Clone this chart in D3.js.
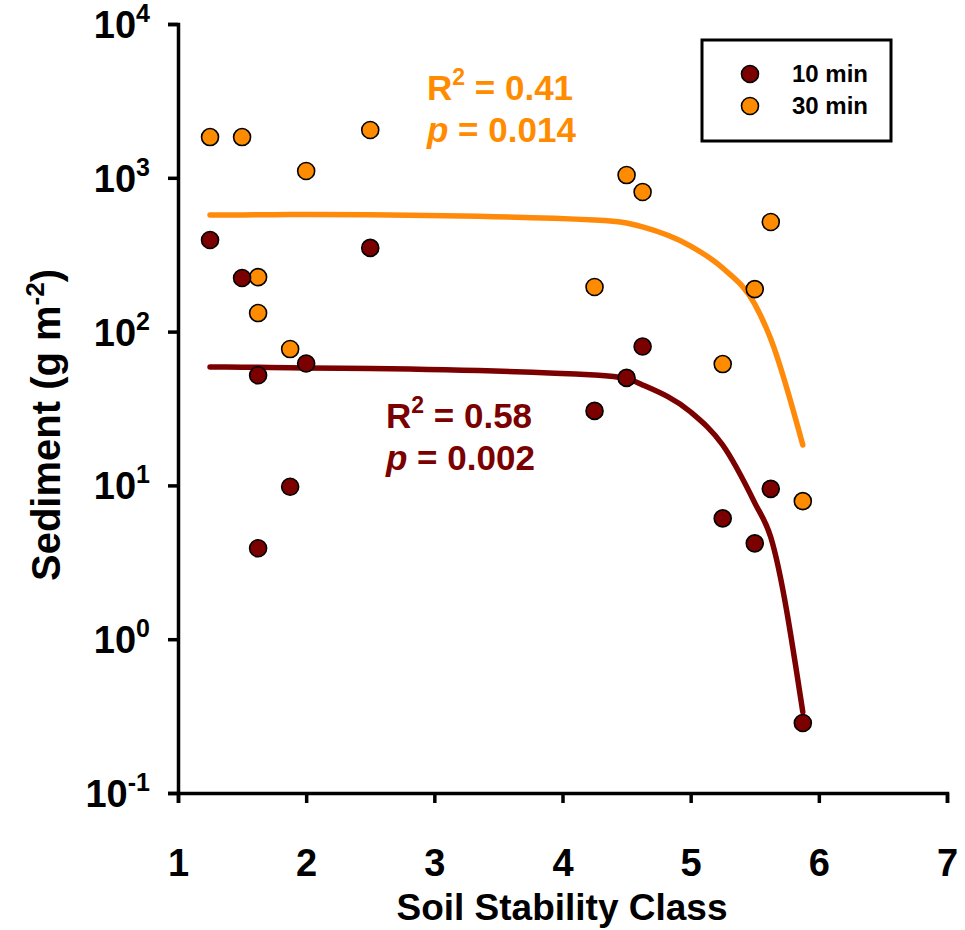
<!DOCTYPE html>
<html>
<head>
<meta charset="utf-8">
<script src="https://cdn.jsdelivr.net/npm/d3@7"></script>
<style>
  body { margin: 0; background: #fff; }
  text { font-family: "Liberation Sans", Arial, sans-serif; font-weight: bold; }
</style>
</head>
<body>
<div id="chart"></div>
<script>
// data
var xTicks = [1, 2, 3, 4, 5, 6, 7];
var yTicks = [-1, 0, 1, 2, 3, 4]; // exponents of 10

var x10 = [1.25, 1.5, 1.625, 1.625, 1.875, 2, 2.5, 4.25, 4.5, 4.625, 5.25, 5.5, 5.625, 5.875];
var y10 = [394, 223, 52, 3.9, 9.8, 62, 350, 30.5, 50, 80, 6.1, 4.2, 9.5, 0.285];

var x30 = [1.25, 1.5, 1.625, 1.625, 1.875, 2, 2.5, 4.25, 4.5, 4.625, 5.25, 5.5, 5.625, 5.875];
var y30 = [1840, 1840, 226, 132, 77, 1107, 2045, 195, 1042, 809, 61.5, 189, 516, 7.9];

var fitX = [1.25, 1.5, 1.625, 1.875, 2, 2.5, 4.25, 4.5, 4.625, 5, 5.25, 5.5, 5.625, 5.875];
var fit10 = [58.9, 58.7, 58.6, 58.3, 58, 57.5, 52.2, 49.5, 45, 30, 18.3, 7.7, 4.6, 0.336];
var fit30 = [573, 574, 575, 577, 578, 575, 532, 508, 480, 360, 259, 151, 89.6, 18.3];

var seriesNames = ["10 min", "30 min"];
var colors = ["#7b0000", "#ff8c00"];
var lineColors = ["#7b0000", "#ff8a0a"];

var W = 965, H = 930;
var padL = 178, padR = 947, padT = 24, padB = 793;

var svg = d3.select("#chart").append("svg")
  .attr("width", W)
  .attr("height", H);

var x = d3.scaleLinear().domain([1, 7]).range([padL, padR]);
var y = d3.scaleLog().domain([0.1, 10000]).range([padB, padT]);

// fitted curves
var line = d3.line()
  .x(function(d) { return x(d[0]); })
  .y(function(d) { return y(d[1]); })
  .curve(d3.curveMonotoneX);

[fit10, fit30].forEach(function(fit, i) {
  svg.append("path")
    .datum(fitX.map(function(v, j) { return [v, fit[j]]; }))
    .attr("d", line)
    .attr("fill", "none")
    .attr("stroke", lineColors[i])
    .attr("stroke-width", 5.5)
    .attr("stroke-linecap", "round")
    .attr("stroke-linejoin", "round");
});

// points
function dots(xs, ys, c) {
  svg.append("g").selectAll("circle")
    .data(xs.map(function(v, j) { return [v, ys[j]]; }))
    .enter().append("circle")
    .attr("cx", function(d) { return x(d[0]); })
    .attr("cy", function(d) { return y(d[1]); })
    .attr("r", 8.5)
    .attr("fill", c)
    .attr("stroke", "#000")
    .attr("stroke-width", 1.6);
}
dots(x30, y30, colors[1]);
dots(x10, y10, colors[0]);

// axes
var xAxis = svg.append("g")
  .attr("transform", "translate(0," + padB + ")")
  .call(d3.axisBottom(x).tickValues(xTicks).tickSize(10).tickPadding(46)
    .tickFormat(d3.format("d")));
var yAxis = svg.append("g")
  .attr("transform", "translate(" + padL + ",0)")
  .call(d3.axisLeft(y).tickValues(yTicks.map(function(e) { return Math.pow(10, e); }))
    .tickSize(10).tickFormat(""));

[xAxis, yAxis].forEach(function(a) {
  a.select(".domain").attr("stroke", "#000").attr("stroke-width", 3.5);
  a.selectAll(".tick line").attr("stroke", "#000").attr("stroke-width", 3.5);
});
xAxis.selectAll(".tick text").attr("font-size", 38).attr("fill", "#000")
  .attr("font-family", "Liberation Sans").attr("font-weight", "bold");

// y tick labels 10^n
yTicks.forEach(function(e) {
  var t = svg.append("text")
    .attr("x", 150)
    .attr("y", y(Math.pow(10, e)) + 14)
    .attr("text-anchor", "end")
    .attr("font-size", 38)
    .attr("fill", "#000");
  t.append("tspan").text("10");
  t.append("tspan").attr("font-size", 25).attr("dy", -16).text(e);
});

// axis titles
svg.append("text")
  .attr("x", 562)
  .attr("y", 920)
  .attr("text-anchor", "middle")
  .attr("font-size", 37)
  .text("Soil Stability Class");

var yt = svg.append("text")
  .attr("transform", "translate(60," + 425 + ") rotate(-90)")
  .attr("text-anchor", "middle")
  .attr("font-size", 40);
yt.append("tspan").text("Sediment (g m");
yt.append("tspan").attr("font-size", 26).attr("dy", -16).text("-2");
yt.append("tspan").attr("dy", 16).text(")");

// stats annotations
function stats(xp, yp, c, r2, p) {
  var t = svg.append("text").attr("x", xp).attr("y", yp).attr("font-size", 35).attr("fill", c);
  t.append("tspan").text("R");
  t.append("tspan").attr("font-size", 23).attr("dy", -15).text("2");
  t.append("tspan").attr("dy", 15).text(" = " + r2);
  var t2 = svg.append("text").attr("x", xp).attr("y", yp + 42).attr("font-size", 35).attr("fill", c);
  t2.append("tspan").attr("font-style", "italic").text("p");
  t2.append("tspan").text(" = " + p);
}
stats(427, 100, "#ff8c00", "0.41", "0.014");
stats(386, 428, "#7b0000", "0.58", "0.002");

// legend
var lg = svg.append("g");
lg.append("rect")
  .attr("x", 702).attr("y", 40).attr("width", 189).attr("height", 101)
  .attr("fill", "#fff").attr("stroke", "#000").attr("stroke-width", 3);
seriesNames.forEach(function(n, i) {
  lg.append("circle")
    .attr("cx", 750).attr("cy", 74 + i * 32).attr("r", 8.5)
    .attr("fill", colors[i]).attr("stroke", "#000").attr("stroke-width", 1.6);
  lg.append("text")
    .attr("x", 792).attr("y", 82 + i * 32)
    .attr("font-size", 24)
    .text(n);
});
</script>
</body>
</html>
